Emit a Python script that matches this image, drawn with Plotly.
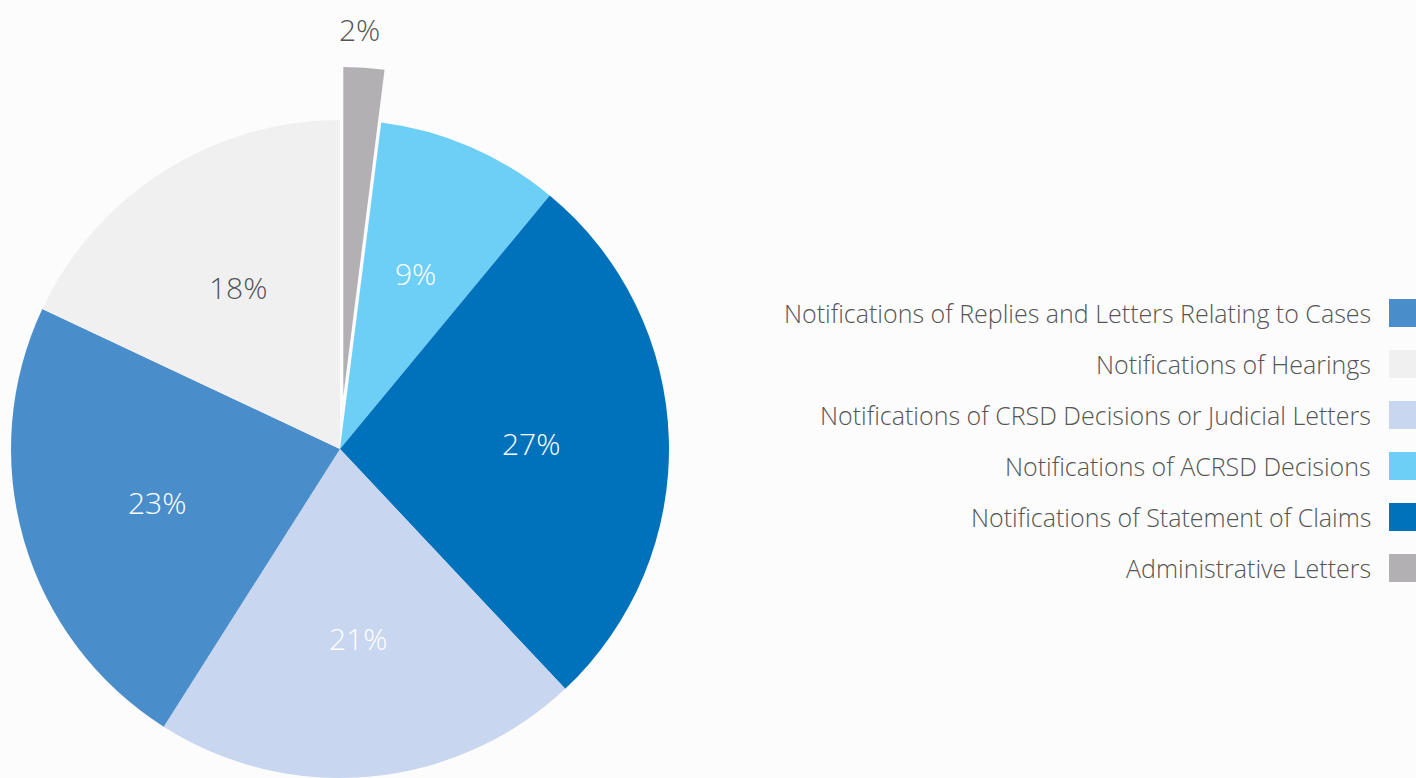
import math
import plotly.graph_objects as go

# Data (legend order)
categories = [
    "Notifications of Replies and Letters Relating to Cases",
    "Notifications of Hearings",
    "Notifications of CRSD Decisions or Judicial Letters",
    "Notifications of ACRSD Decisions",
    "Notifications of Statement of Claims",
    "Administrative Letters",
]
values = [23, 18, 21, 9, 27, 2]
colors = ["#4A8DCB", "#F0F0F0", "#C8D6EF", "#6DCFF6", "#0072BC", "#B2B0B3"]
label_colors = ["#FFFFFF", "#555555", "#FFFFFF", "#FFFFFF", "#FFFFFF", "#555555"]

# clockwise order of slices from 12 o'clock
pie_order = [5, 3, 4, 2, 0, 1]
highlight = 5  # pulled-out slice

W, H = 1416, 778
FONT = "Open Sans"
TXT = "#555555"

p_labels = [categories[i] for i in pie_order]
p_values = [values[i] for i in pie_order]
p_colors = [colors[i] for i in pie_order]

cx, cy, r = 340, 449, 329
pull_px = 53
label_frac = 0.58
total = sum(values)

# slice mid-angles (clockwise from 12 o'clock)
mids = {}
acc = 0
for i in pie_order:
    mids[i] = (acc + values[i] / 2) / total * 2 * math.pi
    acc += values[i]

hx = cx + pull_px * math.sin(mids[highlight])
hy = cy - pull_px * math.cos(mids[highlight])


def dom(x0, y0):
    return dict(x=[(x0 - r) / W, (x0 + r) / W], y=[(H - y0 - r) / H, (H - y0 + r) / H])


main_colors = [c if i != highlight else "rgba(0,0,0,0)" for c, i in zip(p_colors, pie_order)]
hl_colors = [c if i == highlight else "rgba(0,0,0,0)" for c, i in zip(p_colors, pie_order)]

fig = go.Figure()
fig.add_trace(go.Pie(
    labels=p_labels, values=p_values, sort=False, direction="clockwise", rotation=0,
    marker=dict(colors=main_colors, line=dict(width=0)),
    textinfo="none", domain=dom(cx, cy), showlegend=False, hoverinfo="label+percent",
))
fig.add_trace(go.Pie(
    labels=p_labels, values=p_values, sort=False, direction="clockwise", rotation=0,
    marker=dict(colors=hl_colors, line=dict(width=0)),
    textinfo="none", domain=dom(hx, hy), showlegend=False, hoverinfo="skip",
))

annotations = []
shapes = []

# percentage labels
for i in pie_order:
    a = mids[i]
    if i == highlight:
        d = r + 38
        x0, y0 = hx - 7, hy
    else:
        d = r * label_frac
        x0, y0 = cx, cy
    lx = x0 + d * math.sin(a)
    ly = y0 - d * math.cos(a)
    annotations.append(dict(
        x=lx / W, y=(H - ly) / H, xref="paper", yref="paper",
        text=f"{values[i]}%", showarrow=False, xanchor="center", yanchor="middle",
        font=dict(family=FONT, size=30, color=label_colors[i], weight=300),
    ))

# custom right-aligned legend with markers on the right
row0, step = 313, 51
for k, (name, col) in enumerate(zip(categories, colors)):
    yc = row0 + k * step
    annotations.append(dict(
        x=1373 / W, y=(H - yc) / H, xref="paper", yref="paper",
        text=name, showarrow=False, xanchor="right", yanchor="middle",
        font=dict(family=FONT, size=25, color=TXT, weight=300),
    ))
    shapes.append(dict(
        type="rect", xref="paper", yref="paper",
        x0=1389 / W, x1=1416 / W, y0=(H - yc - 14) / H, y1=(H - yc + 14) / H,
        fillcolor=col, line=dict(width=0),
    ))

fig.update_layout(
    width=W, height=H, margin=dict(l=0, r=0, t=0, b=0),
    paper_bgcolor="#FCFCFC", plot_bgcolor="#FCFCFC",
    shapes=shapes, annotations=annotations,
    font=dict(family=FONT, color=TXT),
)
fig.write_html(
    "out.html",
    config={"displayModeBar": False},
    post_script="document.body.style.margin='0';document.body.style.overflow='hidden';",
)
